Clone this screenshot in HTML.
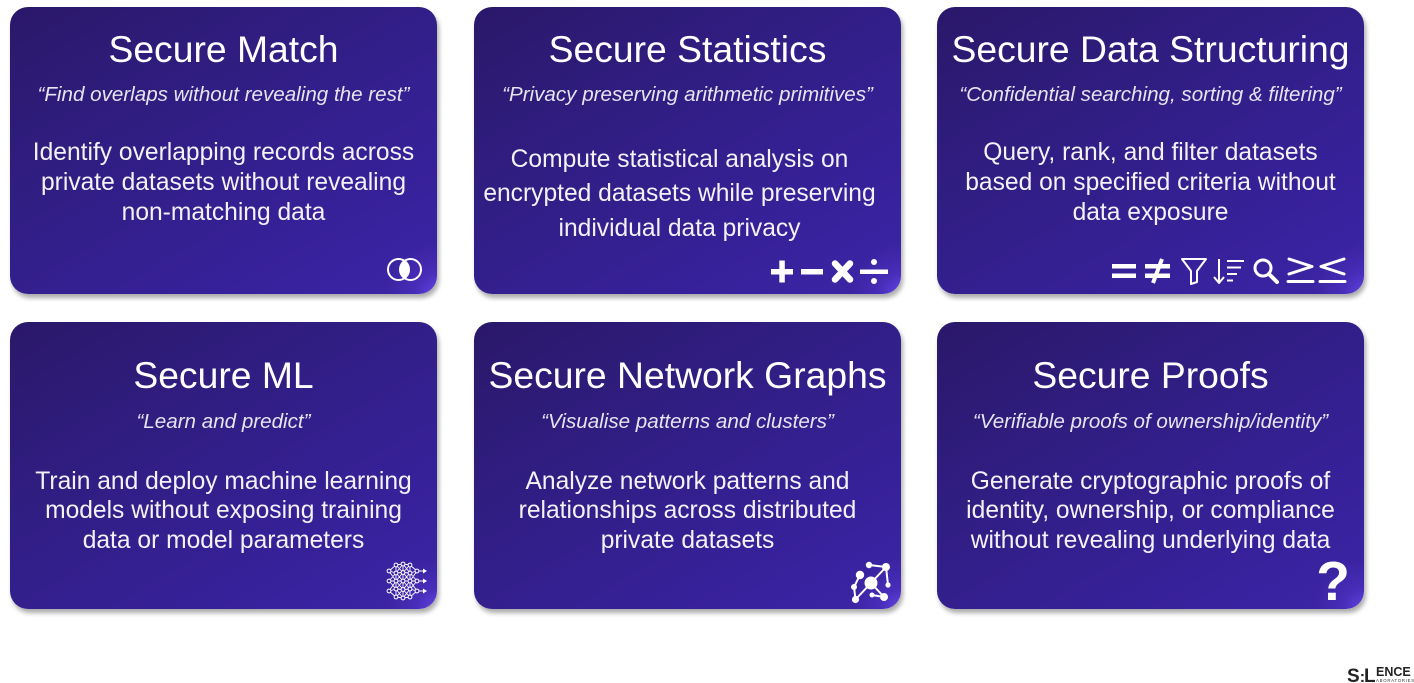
<!DOCTYPE html>
<html>
<head>
<meta charset="utf-8">
<style>
  html, body { margin:0; padding:0; background:#ffffff; }
  body { width:1414px; height:683px; position:relative; overflow:hidden; font-family:"Liberation Sans", Arial, sans-serif; }
  .card {
    position:absolute; width:427px; height:287px; border-radius:18px;
    background:
      radial-gradient(circle at 100% 100%, rgba(104,72,235,0.85) 0px, rgba(90,60,220,0.35) 22px, rgba(80,50,200,0) 50px),
      linear-gradient(150deg, #2a186a 0%, #311e84 40%, #37219a 75%, #3d25a6 100%);
    box-shadow: 2px 4px 5px rgba(0,0,0,0.33);
  }
  .t, .s, .b { position:absolute; left:0; width:427px; text-align:center; white-space:nowrap; }
  .t { font-size:37.3px; line-height:44px; color:#ffffff; }
  .s { font-size:20.6px; line-height:26px; font-style:italic; color:#e6e4f0; }
  .b { font-size:24.6px; line-height:30px; color:#f3f2f8; }
  .r1 .t { top:19.5px; }
  .r1 .s { top:75px; }
  .r1 .b { top:131px; }
  .r2 .t { top:31px; }
  .r2 .s { top:87px; }
  .r2 .b { top:144.5px; line-height:29.8px; }
  #c2 .b { top:136px; line-height:34.3px; left:-8px; }
  svg.ov { position:absolute; left:0; top:0; }
</style>
</head>
<body>

<div class="card r1" id="c1" style="left:10px; top:7px;">
  <div class="t">Secure Match</div>
  <div class="s">“Find overlaps without revealing the rest”</div>
  <div class="b">Identify overlapping records across<br>private datasets without revealing<br>non-matching data</div>
</div>

<div class="card r1" id="c2" style="left:474px; top:7px;">
  <div class="t">Secure Statistics</div>
  <div class="s">“Privacy preserving arithmetic primitives”</div>
  <div class="b">Compute statistical analysis on<br>encrypted datasets while preserving<br>individual data privacy</div>
</div>

<div class="card r1" id="c3" style="left:937px; top:7px;">
  <div class="t">Secure Data Structuring</div>
  <div class="s">“Confidential searching, sorting &amp; filtering”</div>
  <div class="b">Query, rank, and filter datasets<br>based on specified criteria without<br>data exposure</div>
</div>

<div class="card r2" id="c4" style="left:10px; top:322px;">
  <div class="t">Secure ML</div>
  <div class="s">“Learn and predict”</div>
  <div class="b">Train and deploy machine learning<br>models without exposing training<br>data or model parameters</div>
</div>

<div class="card r2" id="c5" style="left:474px; top:322px;">
  <div class="t">Secure Network Graphs</div>
  <div class="s">“Visualise patterns and clusters”</div>
  <div class="b">Analyze network patterns and<br>relationships across distributed<br>private datasets</div>
</div>

<div class="card r2" id="c6" style="left:937px; top:322px;">
  <div class="t">Secure Proofs</div>
  <div class="s">“Verifiable proofs of ownership/identity”</div>
  <div class="b">Generate cryptographic proofs of<br>identity, ownership, or compliance<br>without revealing underlying data</div>
</div>

<svg class="ov" width="1414" height="683" viewBox="0 0 1414 683" xmlns="http://www.w3.org/2000/svg">
  <!-- Card 1: overlapping circles -->
  <g fill="none" stroke="#ffffff" stroke-width="2">
    <circle cx="398.5" cy="269.5" r="10.5"/>
    <circle cx="410.5" cy="269.5" r="10.5"/>
  </g>
  <path d="M404.5 260.8 A10.5 10.5 0 0 1 404.5 278.2 A10.5 10.5 0 0 1 404.5 260.8 Z" fill="#ffffff"/>

  <!-- Card 2: + - x ÷ -->
  <g fill="#ffffff">
    <rect x="771" y="269" width="22" height="5.5"/>
    <rect x="779.3" y="260.5" width="5.5" height="22"/>
    <rect x="801" y="269" width="22" height="5.5"/>
    <rect x="860" y="269.5" width="28" height="4.5"/>
    <circle cx="874" cy="262" r="3"/>
    <circle cx="874" cy="281" r="3"/>
  </g>
  <g stroke="#ffffff" stroke-width="6.5" stroke-linecap="round">
    <line x1="835" y1="263.5" x2="850" y2="279.5"/>
    <line x1="850" y1="263.5" x2="835" y2="279.5"/>
  </g>

  <!-- Card 3: = ≠ funnel sort search ≥ ≤ -->
  <g fill="#ffffff">
    <rect x="1112" y="264" width="24" height="4.5"/>
    <rect x="1112" y="273.5" width="24" height="4.5"/>
    <rect x="1145" y="264" width="25" height="4.5"/>
    <rect x="1145" y="273.5" width="25" height="4.5"/>
  </g>
  <line x1="1162" y1="259" x2="1153" y2="283" stroke="#ffffff" stroke-width="4"/>
  <g fill="none" stroke="#ffffff" stroke-width="2" stroke-linejoin="round">
    <path d="M1182 259 H1206 L1197 271 V282 L1191 284 V271 Z"/>
    <path d="M1219 259 V282 M1214 277 L1219 283 L1224 277"/>
    <path d="M1227 261 H1244 M1227 267.5 H1241 M1227 274 H1237 M1227 280.5 H1233"/>
  </g>
  <g fill="none" stroke="#ffffff" stroke-linecap="round">
    <circle cx="1263" cy="268" r="8" stroke-width="3"/>
    <line x1="1269" y1="274" x2="1277" y2="282" stroke-width="4"/>
  </g>
  <g fill="none" stroke="#ffffff" stroke-width="3" stroke-linecap="round" stroke-linejoin="round">
    <path d="M1289 259 L1312 266.5 L1289 274"/>
    <line x1="1288" y1="281.5" x2="1313" y2="281.5"/>
    <path d="M1344 259 L1321 266.5 L1344 274"/>
    <line x1="1320" y1="281.5" x2="1345" y2="281.5"/>
  </g>

  <!-- Card 4: neural network -->
  <g stroke="#ffffff" stroke-width="0.9" fill="none">
    <path d="M389 571L396 565 M389 571L396 573 M389 571L396 581
             M389 581L396 573 M389 581L396 581 M389 581L396 589
             M389 591L396 581 M389 591L396 589 M389 591L396 597
             M396 565L403 564 M396 565L403 572.5 M396 573L403 564 M396 573L403 572.5 M396 573L403 581
             M396 581L403 572.5 M396 581L403 581 M396 581L403 589.5 M396 589L403 581 M396 589L403 589.5
             M396 589L403 598 M396 597L403 589.5 M396 597L403 598
             M403 564L410 565 M403 564L410 573 M403 572.5L410 565 M403 572.5L410 573 M403 572.5L410 581
             M403 581L410 573 M403 581L410 581 M403 581L410 589 M403 589.5L410 581 M403 589.5L410 589
             M403 589.5L410 597 M403 598L410 589 M403 598L410 597
             M410 565L417 571 M410 573L417 571 M410 581L417 571 M410 573L417 581 M410 581L417 581
             M410 589L417 581 M410 581L417 591 M410 589L417 591 M410 597L417 591
             M396 565V597 M410 565V597 M403 564V598
             M417 571H424 M417 581H424 M417 591H424"/>
  </g>
  <g fill="#ffffff">
    <path d="M423 568.5 L427 571 L423 573.5 Z M423 578.5 L427 581 L423 583.5 Z M423 588.5 L427 591 L423 593.5 Z"/>
  </g>
  <g fill="#3a22a0" stroke="#ffffff" stroke-width="1">
    <circle cx="389" cy="571" r="1.9"/><circle cx="389" cy="581" r="1.9"/><circle cx="389" cy="591" r="1.9"/>
    <circle cx="396" cy="565" r="1.9"/><circle cx="396" cy="573" r="1.9"/><circle cx="396" cy="581" r="1.9"/><circle cx="396" cy="589" r="1.9"/><circle cx="396" cy="597" r="1.9"/>
    <circle cx="403" cy="564" r="1.9"/><circle cx="403" cy="572.5" r="1.9"/><circle cx="403" cy="581" r="1.9"/><circle cx="403" cy="589.5" r="1.9"/><circle cx="403" cy="598" r="1.9"/>
    <circle cx="410" cy="565" r="1.9"/><circle cx="410" cy="573" r="1.9"/><circle cx="410" cy="581" r="1.9"/><circle cx="410" cy="589" r="1.9"/><circle cx="410" cy="597" r="1.9"/>
    <circle cx="417" cy="571" r="1.9"/><circle cx="417" cy="581" r="1.9"/><circle cx="417" cy="591" r="1.9"/>
  </g>

  <!-- Card 5: network graph -->
  <g stroke="#ffffff" stroke-width="2" fill="none">
    <path d="M869 565 L886 567 M886 567 L871 583 M886 567 L888 585 M860 575 L854 587 M854 587 L855.5 599.5 M855.5 599.5 L871 583 M871 583 L884 597 M872 595 L884 597"/>
  </g>
  <g fill="#ffffff">
    <circle cx="871" cy="583" r="6.5"/>
    <circle cx="869" cy="565" r="3.2"/>
    <circle cx="886" cy="567" r="4"/>
    <circle cx="888" cy="585" r="2.6"/>
    <circle cx="860" cy="575" r="4.2"/>
    <circle cx="854" cy="587" r="3"/>
    <circle cx="855.5" cy="599.5" r="3.6"/>
    <circle cx="884" cy="597" r="4"/>
    <circle cx="872" cy="595" r="2.5"/>
  </g>

  <!-- Card 6: question mark -->
  <text x="1333" y="600" text-anchor="middle" font-family="Liberation Sans, Arial, sans-serif" font-weight="bold" font-size="55" fill="#ffffff">?</text>

  <!-- Logo -->
  <text x="1347" y="682" font-family="Liberation Sans, Arial, sans-serif" font-weight="bold" font-size="19" fill="#222222">S<tspan font-size="16">:</tspan><tspan dx="-1">L</tspan></text>
  <text x="1376" y="676" font-family="Liberation Sans, Arial, sans-serif" font-weight="bold" font-size="12.5" fill="#222222">ENCE</text>
  <text x="1376" y="682" font-family="Liberation Sans, Arial, sans-serif" font-size="4.3" letter-spacing="0.75" fill="#333333">ABORATORIES</text>
</svg>

</body>
</html>
